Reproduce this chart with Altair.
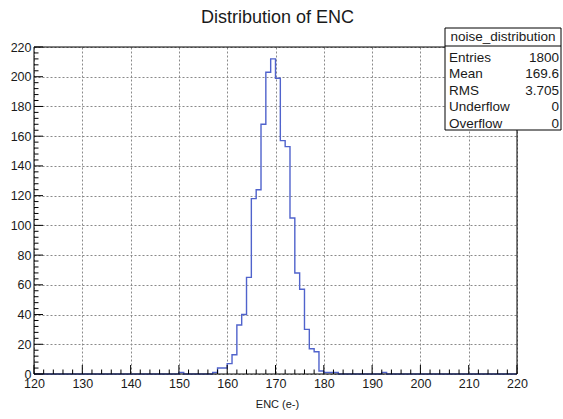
import altair as alt
import pandas as pd

# ---- data ----
filled_bins = [150, 157, 158, 159, 160, 161, 162, 163, 164, 165, 166, 167, 168, 169,
               170, 171, 172, 173, 174, 175, 176, 177, 178, 179, 180, 181, 182, 192]
filled_counts = [1, 1, 4, 4, 7, 13, 33, 40, 65, 118, 124, 168, 203, 212,
                 199, 157, 153, 105, 68, 57, 30, 17, 15, 2, 1, 1, 1, 1]
x_min, x_max = 120, 220
y_min, y_max = 0, 220
x_major = list(range(120, 221, 10))
y_major = list(range(0, 221, 20))
x_minor = [v for v in range(120, 221, 2) if v % 10 != 0]
y_minor = [v for v in range(0, 221, 4) if v % 20 != 0]

stats_title = "noise_distribution"
stats_labels = ["Entries", "Mean", "RMS", "Underflow", "Overflow"]
stats_values = ["1800", "169.6", "3.705", "0", "0"]
chart_title = "Distribution of ENC"
x_title = "ENC (e-)"

# ---- build histogram outline table ----
lookup = dict(zip(filled_bins, filled_counts))
edges = list(range(x_min, x_max + 1))
counts = [lookup.get(b, 0) for b in range(x_min, x_max)]
counts = counts + [counts[-1]]
hist = pd.DataFrame({"x": edges, "n": counts})

W, H = 483, 327
FONT = "Liberation Sans"
TXT = "#1a1a1a"

xs = alt.Scale(domain=[x_min, x_max], nice=False, zero=False)
ys = alt.Scale(domain=[y_min, y_max], nice=False)
xaxis = alt.Axis(values=x_major, grid=True, gridDash=[2, 2], gridColor="#8a8a8a",
                 gridWidth=1, ticks=False, domain=False, labelFont=FONT,
                 labelFontSize=12.5, labelColor=TXT, labelPadding=3,
                 labelOverlap=False, labelBound=False, labelFlush=False,
                 title=None, format="d")
yaxis = alt.Axis(values=y_major, grid=True, gridDash=[2, 2], gridColor="#8a8a8a",
                 gridWidth=1, ticks=False, domain=False, labelFont=FONT,
                 labelFontSize=12.5, labelColor=TXT, labelPadding=3,
                 labelOverlap=False, labelBound=False, labelFlush=False,
                 title=None, format="d")


def X(f):
    return alt.X(f, type="quantitative", scale=xs, axis=xaxis)


def Y(f):
    return alt.Y(f, type="quantitative", scale=ys, axis=yaxis)


layers = []

line = alt.Chart(hist).mark_line(interpolate="step-after", color="#5063cc",
                                  strokeWidth=1.4).encode(x=X("x"), y=Y("n"))
layers.append(line)

# frame
frame = alt.Chart(pd.DataFrame({"x": [x_min]})).mark_rect(
    fill=None, stroke="black", strokeWidth=1).encode(
    x=alt.value(0), x2=alt.value(W), y=alt.value(0), y2=alt.value(H))
layers.append(frame)

# x ticks (inside, pointing up)
layers.append(alt.Chart(pd.DataFrame({"v": x_major})).mark_rule(color="black", strokeWidth=1)
              .encode(x=X("v"), y=alt.value(H), y2=alt.value(H - 9)))
layers.append(alt.Chart(pd.DataFrame({"v": x_minor})).mark_rule(color="black", strokeWidth=1)
              .encode(x=X("v"), y=alt.value(H), y2=alt.value(H - 4.5)))
# y ticks (inside, pointing right)
layers.append(alt.Chart(pd.DataFrame({"v": y_major})).mark_rule(color="black", strokeWidth=1)
              .encode(y=Y("v"), x=alt.value(0), x2=alt.value(9)))
layers.append(alt.Chart(pd.DataFrame({"v": y_minor})).mark_rule(color="black", strokeWidth=1)
              .encode(y=Y("v"), x=alt.value(0), x2=alt.value(4.5)))

# title and x-axis title
layers.append(alt.Chart(pd.DataFrame({"t": [chart_title]})).mark_text(
    font=FONT, fontSize=18, color=TXT, align="center", baseline="middle").encode(
    text="t:N", x=alt.value(W / 2 + 2), y=alt.value(-29)))
layers.append(alt.Chart(pd.DataFrame({"t": [x_title]})).mark_text(
    font=FONT, fontSize=11, color=TXT, align="center", baseline="middle").encode(
    text="t:N", x=alt.value(W / 2 + 2), y=alt.value(358)))

# stats box
bx0, bx1, by0, by1 = 411, 527, -19, 83
layers.append(alt.Chart(pd.DataFrame({"t": [0]})).mark_rect(
    fill="white", stroke="black", strokeWidth=1).encode(
    x=alt.value(bx0), x2=alt.value(bx1), y=alt.value(by0), y2=alt.value(by1)))
layers.append(alt.Chart(pd.DataFrame({"t": [0]})).mark_rule(
    color="black", strokeWidth=1).encode(
    x=alt.value(bx0), x2=alt.value(bx1), y=alt.value(-1)))
layers.append(alt.Chart(pd.DataFrame({"t": [stats_title]})).mark_text(
    font=FONT, fontSize=13.5, color=TXT, align="center", baseline="middle").encode(
    text="t:N", x=alt.value((bx0 + bx1) / 2), y=alt.value(-10)))
row_step = 16.6
for i, (lab, val) in enumerate(zip(stats_labels, stats_values)):
    yy = 10.5 + i * row_step
    layers.append(alt.Chart(pd.DataFrame({"t": [lab]})).mark_text(
        font=FONT, fontSize=13.5, color=TXT, align="left", baseline="middle").encode(
        text="t:N", x=alt.value(bx0 + 4), y=alt.value(yy)))
    layers.append(alt.Chart(pd.DataFrame({"t": [val]})).mark_text(
        font=FONT, fontSize=13.5, color=TXT, align="right", baseline="middle").encode(
        text="t:N", x=alt.value(bx1 - 2), y=alt.value(yy)))

chart = alt.layer(*layers).properties(
    width=W, height=H,
    padding={"left": 34, "top": 47, "right": 46, "bottom": 45},
    autosize=alt.AutoSizeParams(type="none"),
    background="white",
).configure_view(stroke=None)

chart.save("out.html", embed_options={"renderer": "svg", "actions": False})
